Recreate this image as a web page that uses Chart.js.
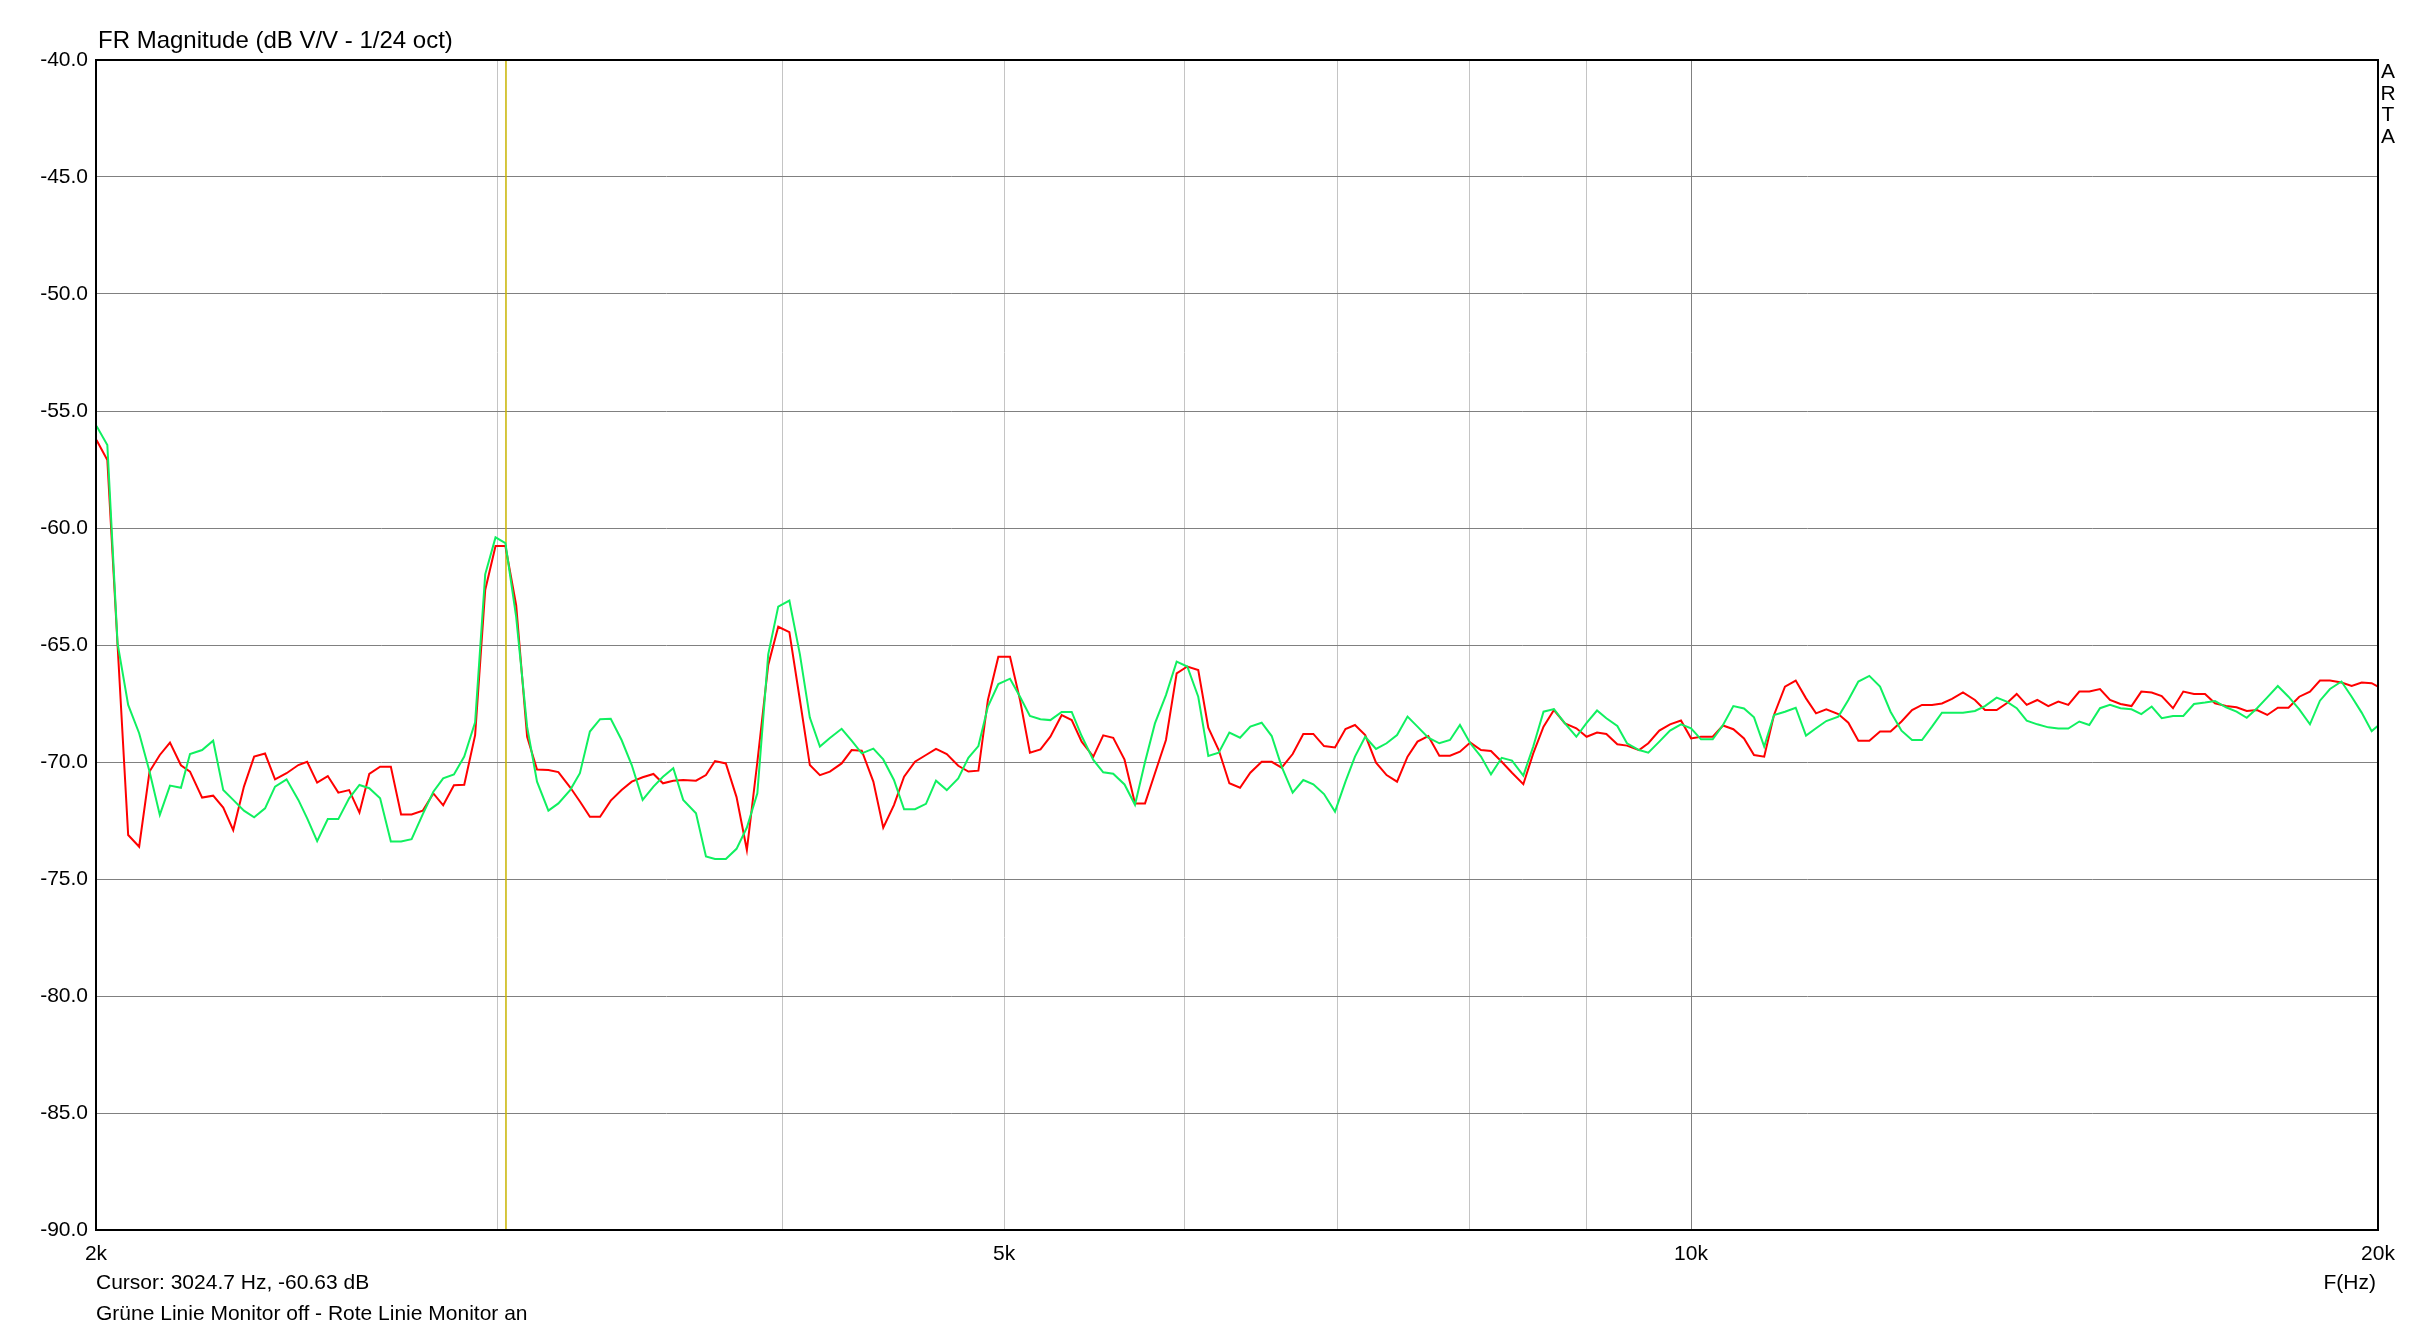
<!DOCTYPE html>
<html lang="de">
<head>
<meta charset="UTF-8">
<title>FR Magnitude</title>
<style type="text/css">
  body { margin: 0; background: #fff; }
  .box { position: relative; width: 2414px; height: 1344px; font-family: "Liberation Sans", Arial, sans-serif; color: #000; }
  .txt { position: absolute; white-space: nowrap; line-height: 1; }
  #title { left: 98px; top: 28px; font-size: 24px; }
  #arta { left: 2379px; top: 60px; font-size: 21px; line-height: 21.5px; width: 18px; text-align: center; }
  #cursor { left: 96px; top: 1271px; font-size: 21px; }
  #legend { left: 96px; top: 1302px; font-size: 21px; }
  #fhz { right: 38px; top: 1271px; font-size: 21px; }
</style>
</head>
<body>
<div class="box">
  <canvas id="myChart" width="2414" height="1344"></canvas>
  <div class="txt" id="title">FR Magnitude (dB V/V - 1/24 oct)</div>
  <div class="txt" id="arta">A<br>R<br>T<br>A</div>
  <div class="txt" id="cursor">Cursor: 3024.7 Hz, -60.63 dB</div>
  <div class="txt" id="legend">Grüne Linie Monitor off - Rote Linie Monitor an</div>
  <div class="txt" id="fhz">F(Hz)</div>
</div>

<script src="https://cdn.jsdelivr.net/npm/chart.js"></script>
<script>
// frequency points (Hz), same for both curves
const freqHz = [2001,2023,2044,2066,2089,2111,2133,2155,2179,2199,
  2226,2251,2274,2297,2322,2346,2372,2396,2424,2453,
  2475,2500,2527,2554,2582,2609,2635,2664,2693,2721,
  2750,2781,2811,2839,2870,2900,2932,2962,2993,3023,
  3056,3090,3121,3157,3189,3227,3259,3292,3326,3362,
  3399,3434,3472,3510,3544,3581,3617,3664,3701,3735,
  3776,3817,3857,3898,3941,3981,4026,4069,4110,4152,
  4194,4244,4287,4331,4382,4426,4474,4520,4570,4621,
  4668,4719,4774,4823,4872,4919,4971,5030,5081,5132,
  5187,5239,5299,5353,5407,5471,5526,5582,5646,5706,
  5764,5822,5887,5951,6015,6082,6144,6209,6276,6344,
  6410,6484,6550,6616,6690,6762,6831,6905,6982,7056,
  7124,7198,7277,7355,7433,7512,7588,7671,7757,7841,
  7920,8003,8090,8172,8261,8347,8443,8528,8617,8708,
  8805,8907,9000,9095,9181,9283,9374,9489,9578,9685,
  9790,9899,10000,10101,10221,10328,10436,10549,10656,10766,
  10873,10994,11114,11230,11344,11462,11602,11720,11839,11971,
  12101,12230,12366,12498,12624,12752,12881,13012,13157,13317,
  13452,13612,13751,13890,14031,14182,14340,14486,14632,14796,
  14946,15108,15261,15424,15596,15751,15917,16079,16263,16433,
  16611,16797,16967,17157,17340,17519,17702,17886,18077,18273,
  18473,18673,18862,19054,19276,19476,19673,19873,20000];

// red: Monitor an (dB)
const redDb = [-56.24,-57.09,-65.0,-73.12,-73.62,-70.41,-69.70,-69.17,-70.14,-70.41,
  -71.52,-71.44,-71.95,-72.91,-71.05,-69.77,-69.64,-70.74,-70.48,-70.13,
  -69.99,-70.88,-70.60,-71.31,-71.20,-72.16,-70.51,-70.20,-70.20,-72.24,
  -72.24,-72.08,-71.34,-71.85,-70.99,-70.97,-68.85,-62.65,-60.77,-60.77,
  -63.3,-68.92,-70.32,-70.34,-70.43,-71.08,-71.69,-72.34,-72.34,-71.65,
  -71.20,-70.84,-70.65,-70.51,-70.91,-70.80,-70.77,-70.80,-70.56,-69.96,
  -70.06,-71.5,-73.76,-70.0,-65.85,-64.22,-64.45,-67.35,-70.13,-70.56,
  -70.41,-70.06,-69.49,-69.52,-70.84,-72.81,-71.84,-70.63,-69.99,-69.70,
  -69.44,-69.66,-70.16,-70.41,-70.37,-67.35,-65.50,-65.50,-67.35,-69.60,
  -69.46,-68.92,-68.00,-68.21,-69.13,-69.77,-68.86,-68.97,-69.90,-71.77,
  -71.77,-70.48,-69.06,-66.21,-65.92,-66.07,-68.53,-69.49,-70.91,-71.10,
  -70.46,-69.99,-69.99,-70.24,-69.66,-68.80,-68.80,-69.32,-69.38,-68.59,
  -68.42,-68.85,-70.03,-70.56,-70.84,-69.77,-69.13,-68.89,-69.73,-69.73,
  -69.56,-69.17,-69.49,-69.53,-69.99,-70.46,-70.95,-69.63,-68.49,-67.78,
  -68.35,-68.56,-68.92,-68.74,-68.80,-69.24,-69.30,-69.49,-69.20,-68.66,
  -68.39,-68.23,-68.99,-68.92,-68.92,-68.44,-68.60,-68.99,-69.70,-69.77,
  -67.99,-66.78,-66.52,-67.28,-67.92,-67.75,-67.95,-68.32,-69.09,-69.09,
  -68.70,-68.70,-68.27,-67.78,-67.56,-67.56,-67.50,-67.30,-67.03,-67.35,
  -67.78,-67.78,-67.49,-67.09,-67.56,-67.35,-67.61,-67.42,-67.56,-66.99,
  -66.99,-66.88,-67.35,-67.52,-67.61,-66.99,-67.03,-67.18,-67.70,-66.99,
  -67.09,-67.09,-67.49,-67.61,-67.66,-67.82,-67.78,-67.99,-67.68,-67.68,
  -67.21,-66.99,-66.52,-66.52,-66.60,-66.75,-66.60,-66.63,-66.78];

// green: Monitor off (dB)
const greenDb = [-55.64,-56.45,-64.93,-67.56,-68.77,-70.41,-72.26,-71.01,-71.10,-69.66,
  -69.49,-69.09,-71.20,-71.62,-72.08,-72.36,-71.98,-71.05,-70.74,-71.62,
  -72.41,-73.38,-72.44,-72.44,-71.55,-70.98,-71.12,-71.55,-73.40,-73.40,
  -73.30,-72.24,-71.27,-70.70,-70.53,-69.77,-68.3,-61.98,-60.40,-60.65,
  -63.8,-68.5,-70.84,-72.08,-71.77,-71.20,-70.48,-68.70,-68.17,-68.15,
  -69.06,-70.13,-71.62,-71.05,-70.63,-70.27,-71.62,-72.19,-74.04,-74.14,
  -74.14,-73.71,-72.8,-71.34,-65.4,-63.36,-63.10,-65.4,-68.1,-69.34,
  -68.97,-68.58,-69.09,-69.63,-69.43,-69.89,-70.77,-72.02,-72.02,-71.79,
  -70.80,-71.20,-70.70,-69.82,-69.32,-67.63,-66.67,-66.44,-67.21,-68.03,
  -68.17,-68.21,-67.86,-67.86,-68.89,-69.91,-70.44,-70.50,-70.96,-71.83,
  -70.0,-68.35,-67.14,-65.71,-65.92,-67.21,-69.74,-69.60,-68.74,-68.96,
  -68.49,-68.32,-68.89,-70.20,-71.31,-70.77,-70.95,-71.37,-72.12,-70.84,
  -69.77,-68.92,-69.44,-69.20,-68.85,-68.06,-68.49,-68.96,-69.20,-69.06,
  -68.42,-69.20,-69.77,-70.53,-69.82,-69.94,-70.58,-69.34,-67.85,-67.74,
  -68.35,-68.92,-68.33,-67.80,-68.13,-68.46,-69.20,-69.49,-69.60,-69.13,
  -68.66,-68.39,-68.56,-69.03,-69.03,-68.42,-67.61,-67.71,-68.09,-69.34,
  -67.99,-67.85,-67.68,-68.87,-68.56,-68.25,-68.06,-67.35,-66.56,-66.32,
  -66.78,-67.85,-68.66,-69.06,-69.06,-68.49,-67.89,-67.89,-67.89,-67.82,
  -67.61,-67.25,-67.42,-67.70,-68.23,-68.39,-68.52,-68.57,-68.57,-68.27,
  -68.42,-67.70,-67.56,-67.70,-67.75,-67.95,-67.63,-68.13,-68.03,-68.03,
  -67.52,-67.46,-67.39,-67.66,-67.85,-68.11,-67.70,-67.24,-66.75,-67.21,
  -67.75,-68.39,-67.38,-66.88,-66.56,-67.21,-67.89,-68.68,-68.45];

// axes
const xGridHz = [2000,3000,4000,5000,6000,7000,8000,9000,10000,20000];
const xLabels = {2000:'2k', 5000:'5k', 10000:'10k', 20000:'20k'};
const cursorHz = 3024.7;

const toPoints = (ys) => freqHz.map((f, i) => ({x: f, y: ys[i]}));

const framePlugin = {
  id: 'frame',
  beforeDatasetsDraw(chart) {
    const {ctx, chartArea: a} = chart;
    const cx = chart.scales.x.getPixelForValue(cursorHz);
    ctx.save();
    ctx.strokeStyle = '#c8b400';
    ctx.lineWidth = 1.5;
    ctx.beginPath();
    ctx.moveTo(cx, a.top);
    ctx.lineTo(cx, a.bottom);
    ctx.stroke();
    ctx.restore();
  },
  afterDraw(chart) {
    const {ctx, chartArea: a} = chart;
    ctx.save();
    ctx.strokeStyle = '#000';
    ctx.lineWidth = 2;
    ctx.strokeRect(a.left, a.top, a.right - a.left, a.bottom - a.top);
    ctx.restore();
  }
};

const config = {
  type: 'line',
  data: {
    datasets: [
      { label: 'Monitor off', data: toPoints(greenDb), borderColor: '#10f060', borderWidth: 2, pointRadius: 0, tension: 0, fill: false },
      { label: 'Monitor an', data: toPoints(redDb), borderColor: '#ff0000', borderWidth: 2, pointRadius: 0, tension: 0, fill: false }
    ]
  },
  options: {
    responsive: false,
    devicePixelRatio: 1,
    animation: false,
    layout: { padding: { left: 0, top: 60, right: 36, bottom: 0 } },
    plugins: { legend: { display: false }, tooltip: { enabled: false }, title: { display: false } },
    scales: {
      x: {
        type: 'logarithmic',
        min: 2000,
        max: 20000,
        afterBuildTicks(s) { s.ticks = xGridHz.map(v => ({ value: v })); },
        afterFit(s) { s.height = 114; },
        border: { display: false },
        grid: {
          drawTicks: false,
          lineWidth: 1,
          color: (c) => c.tick && c.tick.value === 10000 ? '#808080' : '#c4c4c4'
        },
        ticks: {
          autoSkip: false,
          maxRotation: 0,
          minRotation: 0,
          padding: 12,
          color: '#000',
          font: { family: '"Liberation Sans", Arial, sans-serif', size: 21 },
          callback: (v) => xLabels[v] || ''
        }
      },
      y: {
        min: -90,
        max: -40,
        afterFit(s) { s.width = 96; },
        border: { display: false },
        grid: { drawTicks: false, color: '#808080', lineWidth: 1 },
        ticks: {
          stepSize: 5,
          padding: 8,
          color: '#000',
          font: { family: '"Liberation Sans", Arial, sans-serif', size: 21 },
          callback: (v) => v.toFixed(1)
        }
      }
    }
  },
  plugins: [framePlugin]
};

const myChart = new Chart(document.getElementById('myChart'), config);
</script>
</body>
</html>
